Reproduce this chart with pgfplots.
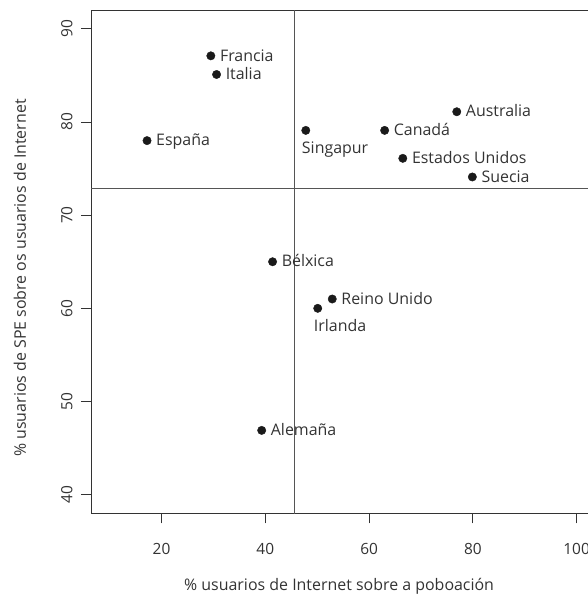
\documentclass[border=0pt]{standalone}
\usepackage{fontspec}
\setmainfont{Open Sans}
\usepackage{pgfplots}
\pgfplotsset{compat=1.18}
\definecolor{txt}{HTML}{333333}
\definecolor{axc}{HTML}{333333}
\definecolor{refc}{HTML}{555555}
\definecolor{dotc}{HTML}{1A1A1A}
\begin{document}
\begin{tikzpicture}
\useasboundingbox (-91bp,-82.7bp) rectangle (497bp,513.3bp);
\begin{axis}[
  at={(0,0)}, anchor=south west,
  scale only axis, width=504.3bp, height=503.1bp,
  xmin=6.4, xmax=103.6, ymin=38, ymax=92,
  xtick={20,40,60,80,100}, ytick={40,50,60,70,80,90},
  xtick pos=bottom, ytick pos=left,
  tick align=outside, major tick length=10bp,
  axis line style={axc, line width=0.8bp},
  tick style={axc, line width=0.8bp},
  ticklabel style={font=\fontsize{15.5}{16}\selectfont, text=txt},
  /pgf/number format/assume math mode=true,
  xticklabel style={anchor=north, inner sep=0pt},
  yticklabel style={rotate=90, anchor=south, inner sep=0pt},
  xticklabel shift=19.4bp, yticklabel shift=8.2bp,
  xlabel={\% usuarios de Internet sobre a poboación},
  ylabel={\% usuarios de SPE sobre os usuarios de Internet},
  label style={font=\fontsize{16}{16}\selectfont, text=txt},
  xlabel style={at={(axis description cs:0.492,-0.1445)}, anchor=center},
  ylabel style={at={(axis description cs:-0.1408,0.4677)}, anchor=center},
]
\addplot[refc, line width=0.8bp] coordinates {(45.6,0) (45.6,120)};
\addplot[refc, line width=0.8bp] coordinates {(0,72.85) (120,72.85)};
\addplot[only marks, mark=*, mark size=4.2bp, mark options={fill=dotc, draw=dotc},
  nodes near coords, point meta=explicit symbolic,
  every node near coord/.append style={anchor=base west, inner sep=0pt, xshift=9bp, yshift=-5.2bp,
    font=\fontsize{16}{16}\selectfont, text=txt}]
coordinates {
(29.5,87.1) [Francia]
(30.6,85.1) [Italia]
(17.2,78.0) [España]
(63.0,79.1) [Canadá]
(76.9,81.1) [Australia]
(66.5,76.1) [Estados Unidos]
(79.9,74.1) [Suecia]
(41.4,65.0) [Bélxica]
(52.9,61.0) [Reino Unido]
(39.3,46.9) [Alemaña]
};
\addplot[only marks, mark=*, mark size=4.2bp, mark options={fill=dotc, draw=dotc},
  nodes near coords, point meta=explicit symbolic,
  every node near coord/.append style={anchor=base west, inner sep=0pt, xshift=-4bp, yshift=-23bp,
    font=\fontsize{16}{16}\selectfont, text=txt}]
coordinates {
(47.8,79.1) [Singapur]
(50.1,60.0) [Irlanda]
};
\end{axis}
\end{tikzpicture}
\end{document}
